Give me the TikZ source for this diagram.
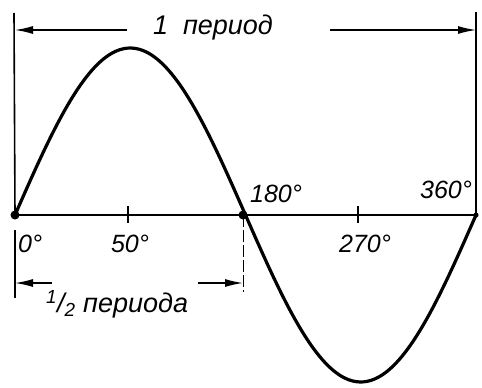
\documentclass[tikz,border=0pt]{standalone}
\usepackage{fontspec}
\setmainfont{Liberation Sans}
\usetikzlibrary{arrows.meta}
\begin{document}
\begin{tikzpicture}[x=1pt,y=-1pt,
  lbl/.style={font=\fontsize{25}{25}\selectfont\itshape, inner sep=0pt},
  dim/.style={line width=1.4pt,-{Latex[length=18pt,width=8pt]}},
  thin/.style={line width=1.6pt}]
\useasboundingbox (0,0) rectangle (482,388);
% key points
\coordinate (o) at (15,215);
\coordinate (h) at (243,215);
\coordinate (e) at (476,215);
% axis
\draw[thin] (o) -- (e);
\draw[thin] (128,206) -- (128,223);
\draw[thin] (358,206) -- (358,223);
% sine curve
\draw[line width=3.2pt, line join=round] plot[domain=0:360, samples=120, smooth] ({15+\x/360*461}, {215-167*sin(\x)});
% dots
\fill (o) circle (4.5pt);
\fill (h) circle (4.5pt);
\fill (e) circle (2.5pt);
% vertical extension lines
\draw[thin] (14,13) -- (o);
\draw[thin] (476,12) -- (e);
\draw[thin] (15,230) -- (15,298);
\draw[line width=1pt, dash pattern=on 12pt off 3pt] (h) -- (243,292);
% top dimension
\node[lbl, font=\fontsize{27}{27}\selectfont\itshape] (per) at (213,28) {1\ \ период};
\coordinate (la) at (15,30);
\coordinate (ra) at (476,30);
\draw[dim] (127,30) -- (la);
\draw[dim] (330,30) -- (ra);
% half-period dimension
\coordinate (hl) at (15,283);
\coordinate (hr) at (243,283);
\draw[dim] (52,283) -- (hl);
\draw[dim] (198,283) -- (hr);
\node[lbl, anchor=west, font=\fontsize{27}{27}\selectfont\itshape] (half) at (46,304) {\textsuperscript{1}/\textsubscript{2} периода};
% labels
\node[lbl, anchor=west] (l0) at (18,244) {0°};
\node[lbl] (l50) at (130,244) {50°};
\node[lbl] (l270) at (365,244) {270°};
\node[lbl] (l180) at (276,194) {180°};
\node[lbl] (l360) at (446,190) {360°};
\end{tikzpicture}
\end{document}
